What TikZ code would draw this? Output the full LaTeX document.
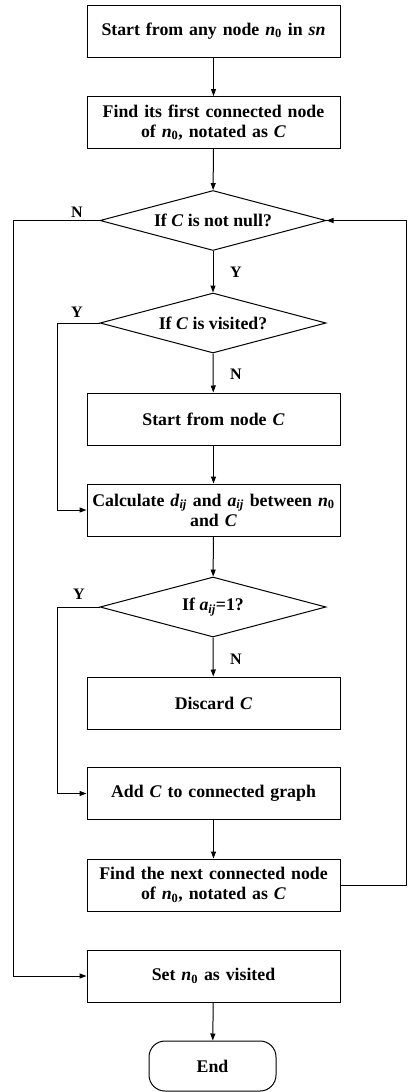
\documentclass[tikz,border=0pt]{standalone}
\usepackage{fontspec}
\setmainfont{Liberation Serif}
\usetikzlibrary{shapes.geometric,arrows.meta}
\begin{document}
\begin{tikzpicture}[x=1pt,y=1pt,
  every node/.style={font=\fontsize{17.8}{20}\selectfont\bfseries},
  box/.style={draw, line width=1pt, minimum width=253pt, minimum height=52pt, text width=249pt, align=center, inner sep=2pt},
  dec/.style={draw, line width=1pt, diamond, aspect=3.77, minimum width=226pt, minimum height=60pt, inner sep=0pt},
  term/.style={draw, line width=1pt, rounded corners=16pt, minimum width=127pt, minimum height=50pt},
  lbl/.style={font=\fontsize{16}{18}\selectfont\bfseries},
  conn/.style={line width=1pt, -{Triangle[length=7pt,width=5pt]}},
  plain/.style={line width=1pt}]
\useasboundingbox (0,0) rectangle (408,-1092);
\node[box] (b1) at (213.5,-31) {Start from any node \textit{n}\textsubscript{0} in \textit{sn}};
\node[box] (b2) at (213.5,-122.5) {Find its first connected node\\ of \textit{n}\textsubscript{0}, notated as \textit{C}};
\node[dec] (d1) at (213,-220.5) {If \textit{C} is not null?};
\node[dec] (d2) at (213,-323) {If \textit{C} is visited?};
\node[box] (b3) at (213.5,-419) {Start from node \textit{C}};
\node[box] (b4) at (213.5,-510) {Calculate \textit{d}\textsubscript{\textit{ij}} and \textit{a}\textsubscript{\textit{ij}} between \textit{n}\textsubscript{0}\\ and \textit{C}};
\node[dec] (d3) at (213,-607) {If \textit{a}\textsubscript{\textit{ij}}=1?};
\node[box] (b5) at (213.5,-703) {Discard \textit{C}};
\node[box] (b6) at (213.5,-793.5) {Add \textit{C} to connected graph};
\node[box] (b7) at (213.5,-885) {Find the next connected node\\ of \textit{n}\textsubscript{0}, notated as \textit{C}};
\node[box] (b8) at (213.5,-976) {Set \textit{n}\textsubscript{0} as visited};
\node[term] (e) at (212.5,-1066) {End};
\coordinate (rr) at (406.5,-885);
\coordinate (l1) at (13,-220.5);
\coordinate (l2) at (57,-323);
\coordinate (l3) at (57,-607);
\draw[conn] (b1) -- (b2);
\draw[conn] (b2) -- (d1);
\draw[conn] (d1.south) -- (d2.north);
\draw[conn] (d2.south) -- (b3);
\draw[conn] (b3) -- (b4);
\draw[conn] (b4) -- (d3);
\draw[conn] (d3.south) -- (b5);
\draw[conn] (b6) -- (b7);
\draw[conn] (b8) -- (e);
\draw[conn] (d1.west) -- (l1) |- (b8.west);
\draw[conn] (d2.west) -- (l2) |- (b4.west);
\draw[conn] (d3.west) -- (l3) |- (b6.west);
\draw[conn] (b7.east) -- (rr) |- (d1.east);
\node[lbl] (ln1) at (77,-212) {N};
\node[lbl] (ly1) at (236,-272) {Y};
\node[lbl] (ly2) at (77,-312) {Y};
\node[lbl] (ln2) at (236,-374) {N};
\node[lbl] (ly3) at (79,-594) {Y};
\node[lbl] (ln3) at (236,-659) {N};
\end{tikzpicture}
\end{document}
